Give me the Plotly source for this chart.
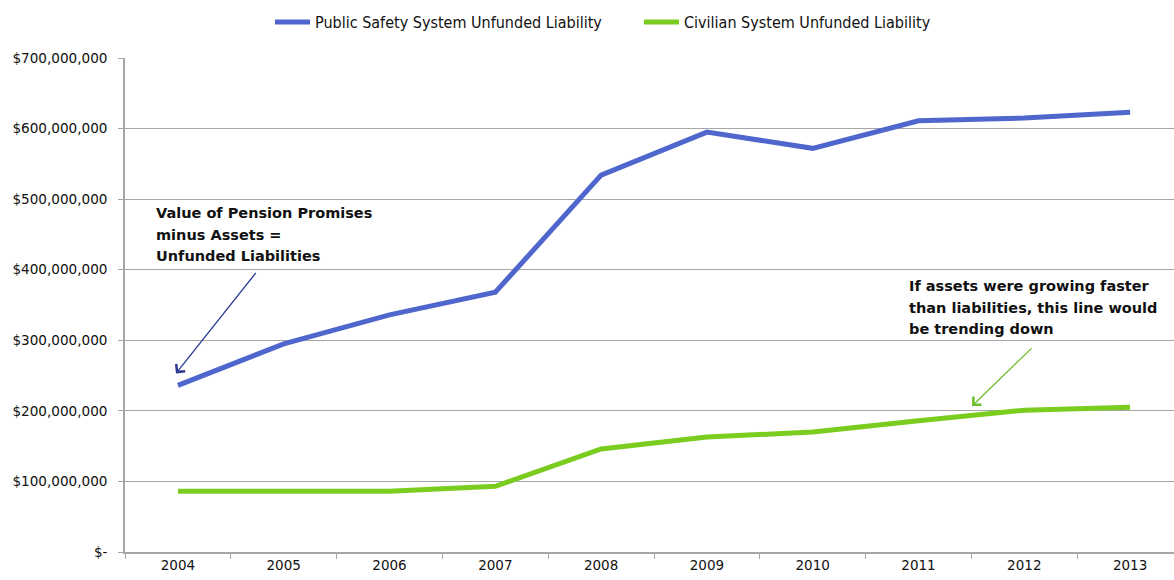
import plotly.graph_objects as go

years = ["2004", "2005", "2006", "2007", "2008", "2009", "2010", "2011", "2012", "2013"]
public_safety = [236e6, 295e6, 336e6, 368e6, 534e6, 595e6, 572e6, 611e6, 615e6, 623e6]
civilian = [86e6, 86e6, 86e6, 93e6, 146e6, 163e6, 170e6, 186e6, 201e6, 205e6]
y_ticks = [0, 100e6, 200e6, 300e6, 400e6, 500e6, 600e6, 700e6]
y_labels = ["$-", "$100,000,000", "$200,000,000", "$300,000,000", "$400,000,000",
            "$500,000,000", "$600,000,000", "$700,000,000"]
note1 = ["Value of Pension Promises", "minus Assets =", "Unfunded Liabilities"]
note2 = ["If assets were growing faster", "than liabilities, this line would", "be trending down"]

xi = list(range(len(years)))
BLUE = "#4F66CC"
GREEN = "#7ACC1E"

fig = go.Figure()
fig.add_trace(go.Scatter(x=xi, y=public_safety, mode="lines", name="Public Safety System Unfunded Liability",
                         line=dict(color=BLUE, width=5), legend="legend"))
fig.add_trace(go.Scatter(x=xi, y=civilian, mode="lines", name="Civilian System Unfunded Liability",
                         line=dict(color=GREEN, width=5), legend="legend2"))

font_ann = dict(family="DejaVu Sans", size=14.5, color="#111111")
for line, yv in zip(note1, [480.4e6, 449.2e6, 419.4e6]):
    fig.add_annotation(x=-0.228, y=yv, xref="x", yref="y", xanchor="left", yanchor="middle",
                       text="<b>" + line + "</b>", showarrow=False, align="left", font=font_ann)
for line, yv in zip(note2, [376.9e6, 345.7e6, 316.0e6]):
    fig.add_annotation(x=6.89, y=yv, xref="x", yref="y", xanchor="left", yanchor="middle",
                       text="<b>" + line + "</b>", showarrow=False, align="left", font=font_ann)
fig.add_annotation(x=-0.018, y=253e6, xref="x", yref="y", text="", showarrow=True,
                   ax=81, ay=-102, arrowhead=4, arrowsize=1.7, arrowwidth=1.3, arrowcolor="#2B3A8F")
fig.add_annotation(x=7.506, y=207e6, xref="x", yref="y", text="", showarrow=True,
                   ax=61, ay=-59, arrowhead=4, arrowsize=1.7, arrowwidth=1.3, arrowcolor="#6DBE2A")

leg_common = dict(orientation="h", xref="container", xanchor="left",
                  y=1 - 22 / 580, yref="container", yanchor="middle",
                  font=dict(family="DejaVu Sans Condensed", size=16), itemwidth=35)

fig.update_layout(
    width=1174, height=580,
    margin=dict(l=125, r=0, t=58, b=28),
    paper_bgcolor="white", plot_bgcolor="white",
    font=dict(family="DejaVu Sans", size=13, color="#111111"),
    showlegend=True,
    legend=dict(x=270 / 1174, **leg_common),
    legend2=dict(x=639 / 1174, **leg_common),
    xaxis=dict(range=[-0.5, 9.415], tickvals=xi, ticktext=years, ticks="", showgrid=False,
               zeroline=False, showline=True, linecolor="#A6A6A6", linewidth=1.5,
               tickfont=dict(family="DejaVu Sans", size=13.5),
               minor=dict(tickvals=[i + 0.5 for i in range(-1, 10)], ticks="outside", ticklen=5,
                          tickcolor="#A6A6A6", tickwidth=1, showgrid=False)),
    yaxis=dict(range=[0, 700e6], tickvals=y_ticks, ticktext=y_labels, ticks="outside", ticklen=5,
               tickcolor="#A6A6A6", showgrid=True, gridcolor="#A6A6A6", gridwidth=1,
               zeroline=False, showline=True, linecolor="#A6A6A6", linewidth=1.5,
               ticklabelstandoff=8, tickfont=dict(family="DejaVu Sans", size=13.6)),
)

fig.write_html("out.html")
